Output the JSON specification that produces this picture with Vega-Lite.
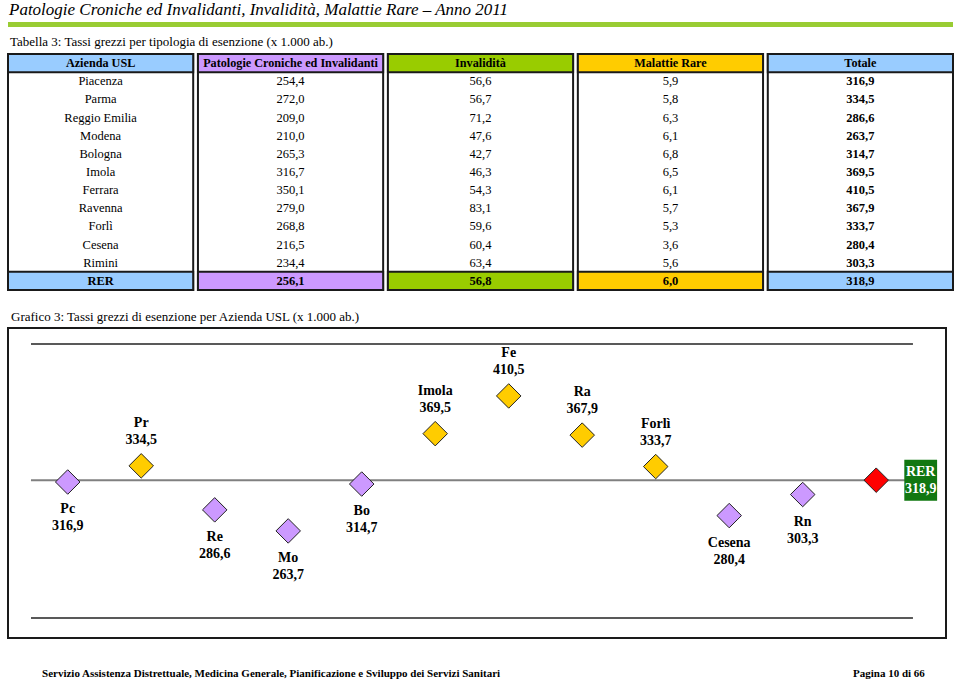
{
  "$schema": "https://vega.github.io/schema/vega-lite/v6.json",
  "padding": {"left": 7, "top": 1, "right": 0, "bottom": 0},
  "background": "white",
  "config": {
    "view": {"stroke": null},
    "font": "Liberation Serif",
    "locale": {"number": {"decimal": ",", "thousands": ".", "grouping": [3], "currency": ["", " €"]}},
    "title": {"font": "Liberation Serif", "fontWeight": "normal", "anchor": "start", "color": "#000000"},
    "text": {"font": "Liberation Serif", "color": "#000000"}
  },
  "datasets": {
    "colonne": [
      {"colonna": "Azienda USL"},
      {"colonna": "Patologie Croniche ed Invalidanti"},
      {"colonna": "Invalidità"},
      {"colonna": "Malattie Rare"},
      {"colonna": "Totale"}
    ],
    "aziende": [
      {"azienda": "Piacenza", "sigla": "Pc", "Patologie Croniche ed Invalidanti": 254.4, "Invalidità": 56.6, "Malattie Rare": 5.9, "Totale": 316.9, "posizione": "sotto"},
      {"azienda": "Parma", "sigla": "Pr", "Patologie Croniche ed Invalidanti": 272.0, "Invalidità": 56.7, "Malattie Rare": 5.8, "Totale": 334.5, "posizione": "sopra"},
      {"azienda": "Reggio Emilia", "sigla": "Re", "Patologie Croniche ed Invalidanti": 209.0, "Invalidità": 71.2, "Malattie Rare": 6.3, "Totale": 286.6, "posizione": "sotto"},
      {"azienda": "Modena", "sigla": "Mo", "Patologie Croniche ed Invalidanti": 210.0, "Invalidità": 47.6, "Malattie Rare": 6.1, "Totale": 263.7, "posizione": "sotto"},
      {"azienda": "Bologna", "sigla": "Bo", "Patologie Croniche ed Invalidanti": 265.3, "Invalidità": 42.7, "Malattie Rare": 6.8, "Totale": 314.7, "posizione": "sotto"},
      {"azienda": "Imola", "sigla": "Imola", "Patologie Croniche ed Invalidanti": 316.7, "Invalidità": 46.3, "Malattie Rare": 6.5, "Totale": 369.5, "posizione": "sopra"},
      {"azienda": "Ferrara", "sigla": "Fe", "Patologie Croniche ed Invalidanti": 350.1, "Invalidità": 54.3, "Malattie Rare": 6.1, "Totale": 410.5, "posizione": "sopra"},
      {"azienda": "Ravenna", "sigla": "Ra", "Patologie Croniche ed Invalidanti": 279.0, "Invalidità": 83.1, "Malattie Rare": 5.7, "Totale": 367.9, "posizione": "sopra"},
      {"azienda": "Forlì", "sigla": "Forlì", "Patologie Croniche ed Invalidanti": 268.8, "Invalidità": 59.6, "Malattie Rare": 5.3, "Totale": 333.7, "posizione": "sopra"},
      {"azienda": "Cesena", "sigla": "Cesena", "Patologie Croniche ed Invalidanti": 216.5, "Invalidità": 60.4, "Malattie Rare": 3.6, "Totale": 280.4, "posizione": "sotto"},
      {"azienda": "Rimini", "sigla": "Rn", "Patologie Croniche ed Invalidanti": 234.4, "Invalidità": 63.4, "Malattie Rare": 5.6, "Totale": 303.3, "posizione": "sotto"},
      {"azienda": "RER", "sigla": "RER", "Patologie Croniche ed Invalidanti": 256.1, "Invalidità": 56.8, "Malattie Rare": 6.0, "Totale": 318.9, "posizione": "regione"}
    ]
  },
  "spacing": 19,
  "vconcat": [
    {
      "spacing": 9,
      "vconcat": [
        {
          "width": 945,
          "height": 5,
          "title": {"text": "Patologie Croniche ed Invalidanti, Invalidità, Malattie Rare – Anno 2011", "fontSize": 17, "fontStyle": "italic", "offset": 3, "dx": 1},
          "data": {"values": [{}]},
          "mark": {"type": "rect", "color": "#99CC33"},
          "encoding": {}
        },
        {
          "width": 945,
          "height": 236,
          "title": {"text": "Tabella 3: Tassi grezzi per tipologia di esenzione (x 1.000 ab.)", "fontSize": 13, "offset": 4, "dx": 3},
          "layer": [
            {
              "data": {"name": "colonne"},
              "mark": {"type": "rect", "fill": "white", "stroke": "#1a1a1a", "strokeWidth": 2},
              "encoding": {
                "x": {"field": "colonna", "type": "nominal", "axis": null,
                  "scale": {"type": "band", "domain": ["Azienda USL", "Patologie Croniche ed Invalidanti", "Invalidità", "Malattie Rare", "Totale"], "paddingInner": 0.025, "paddingOuter": 0}}
              }
            },
            {
              "data": {"name": "colonne"},
              "mark": {"type": "rect", "stroke": "#1a1a1a", "strokeWidth": 2},
              "encoding": {
                "x": {"field": "colonna", "type": "nominal", "axis": null},
                "y": {"datum": "intestazione", "type": "nominal", "axis": null,
                  "scale": {"type": "band", "domain": ["intestazione", "Piacenza", "Parma", "Reggio Emilia", "Modena", "Bologna", "Imola", "Ferrara", "Ravenna", "Forlì", "Cesena", "Rimini", "RER"], "paddingInner": 0, "paddingOuter": 0}},
                "color": {"field": "colonna", "type": "nominal", "legend": null,
                  "scale": {"domain": ["Azienda USL", "Patologie Croniche ed Invalidanti", "Invalidità", "Malattie Rare", "Totale"], "range": ["#99CCFF", "#CC99FF", "#99CC00", "#FFCC00", "#99CCFF"]}}
              }
            },
            {
              "data": {"name": "colonne"},
              "mark": {"type": "rect", "stroke": "#1a1a1a", "strokeWidth": 2},
              "encoding": {
                "x": {"field": "colonna", "type": "nominal", "axis": null},
                "y": {"datum": "RER", "type": "nominal", "axis": null},
                "color": {"field": "colonna", "type": "nominal", "legend": null}
              }
            },
            {
              "data": {"name": "colonne"},
              "mark": {"type": "text", "fontSize": 12.2, "fontWeight": "bold"},
              "encoding": {
                "x": {"field": "colonna", "type": "nominal", "axis": null},
                "y": {"datum": "intestazione", "type": "nominal", "axis": null},
                "text": {"field": "colonna"}
              }
            },
            {
              "data": {"name": "aziende"},
              "transform": [{"filter": "datum.azienda !== 'RER'"}],
              "mark": {"type": "text", "fontSize": 12.5, "fontWeight": "normal"},
              "encoding": {
                "x": {"datum": "Azienda USL", "type": "nominal", "axis": null},
                "y": {"field": "azienda", "type": "nominal", "axis": null},
                "text": {"field": "azienda"}
              }
            },
            {
              "data": {"name": "aziende"},
              "transform": [{"filter": "datum.azienda === 'RER'"}],
              "mark": {"type": "text", "fontSize": 12.5, "fontWeight": "bold"},
              "encoding": {
                "x": {"datum": "Azienda USL", "type": "nominal", "axis": null},
                "y": {"field": "azienda", "type": "nominal", "axis": null},
                "text": {"field": "azienda"}
              }
            },
            {
              "data": {"name": "aziende"},
              "transform": [
                {"fold": ["Patologie Croniche ed Invalidanti", "Invalidità", "Malattie Rare", "Totale"], "as": ["colonna", "valore"]},
                {"filter": "datum.azienda !== 'RER' && datum.colonna !== 'Totale'"}
              ],
              "mark": {"type": "text", "fontSize": 12.5, "fontWeight": "normal"},
              "encoding": {
                "x": {"field": "colonna", "type": "nominal", "axis": null},
                "y": {"field": "azienda", "type": "nominal", "axis": null},
                "text": {"field": "valore", "type": "quantitative", "format": ".1f"}
              }
            },
            {
              "data": {"name": "aziende"},
              "transform": [
                {"fold": ["Patologie Croniche ed Invalidanti", "Invalidità", "Malattie Rare", "Totale"], "as": ["colonna", "valore"]},
                {"filter": "datum.azienda === 'RER' || datum.colonna === 'Totale'"}
              ],
              "mark": {"type": "text", "fontSize": 12.5, "fontWeight": "bold"},
              "encoding": {
                "x": {"field": "colonna", "type": "nominal", "axis": null},
                "y": {"field": "azienda", "type": "nominal", "axis": null},
                "text": {"field": "valore", "type": "quantitative", "format": ".1f"}
              }
            }
          ]
        }
      ]
    },
    {
      "spacing": 28,
      "vconcat": [
        {
          "width": 938,
          "height": 310,
          "title": {"text": "Grafico 3: Tassi grezzi di esenzione per Azienda USL (x 1.000 ab.)", "fontSize": 13, "offset": 4, "dx": 3},
          "view": {"stroke": "#1a1a1a", "strokeWidth": 2},
          "layer": [
            {
              "data": {"values": [{}]},
              "mark": {"type": "rule", "color": "#222222", "strokeWidth": 1.5},
              "encoding": {
                "x": {"datum": "Pc", "type": "nominal", "bandPosition": 0, "axis": null,
                  "scale": {"type": "band", "domain": ["Pc", "Pr", "Re", "Mo", "Bo", "Imola", "Fe", "Ra", "Forlì", "Cesena", "Rn", "RER"], "paddingInner": 0, "paddingOuter": 0.381, "align": 0.41}},
                "x2": {"datum": "RER", "bandPosition": 1},
                "y": {"datum": 467, "type": "quantitative", "axis": null,
                  "scale": {"domain": [147.25, 484.4], "nice": false, "zero": false}}
              }
            },
            {
              "data": {"values": [{}]},
              "mark": {"type": "rule", "color": "#222222", "strokeWidth": 1.5},
              "encoding": {
                "x": {"datum": "Pc", "type": "nominal", "bandPosition": 0, "axis": null},
                "x2": {"datum": "RER", "bandPosition": 1},
                "y": {"datum": 169, "type": "quantitative", "axis": null}
              }
            },
            {
              "data": {"values": [{}]},
              "mark": {"type": "rule", "color": "#808080", "strokeWidth": 2},
              "encoding": {
                "x": {"datum": "Pc", "type": "nominal", "bandPosition": 0, "axis": null},
                "x2": {"datum": "RER", "bandPosition": 1},
                "y": {"datum": 318.9, "type": "quantitative", "axis": null}
              }
            },
            {
              "data": {"name": "aziende"},
              "transform": [{"filter": "datum.posizione === 'regione'"}],
              "mark": {"type": "point", "filled": true, "opacity": 1, "shape": "M-0.8,-1L0.8,-1L0.8,1L-0.8,1Z", "size": 1681, "color": "#117711", "xOffset": 44.5},
              "encoding": {
                "x": {"field": "sigla", "type": "nominal", "axis": null},
                "y": {"field": "Totale", "type": "quantitative", "axis": null}
              }
            },
            {
              "data": {"name": "aziende"},
              "mark": {"type": "point", "filled": true, "opacity": 1, "shape": "diamond", "size": 600, "stroke": "#222222", "strokeWidth": 1},
              "encoding": {
                "x": {"field": "sigla", "type": "nominal", "axis": null},
                "y": {"field": "Totale", "type": "quantitative", "axis": null},
                "fill": {"field": "posizione", "type": "nominal", "legend": null,
                  "scale": {"domain": ["sopra", "sotto", "regione"], "range": ["#FFCC00", "#CC99FF", "#FF0000"]}}
              }
            },
            {
              "data": {"name": "aziende"},
              "transform": [{"filter": "datum.posizione === 'sopra'"}],
              "mark": {"type": "text", "fontSize": 14, "fontWeight": "bold", "dy": -43},
              "encoding": {
                "x": {"field": "sigla", "type": "nominal", "axis": null},
                "y": {"field": "Totale", "type": "quantitative", "axis": null},
                "text": {"field": "sigla"}
              }
            },
            {
              "data": {"name": "aziende"},
              "transform": [{"filter": "datum.posizione === 'sopra'"}],
              "mark": {"type": "text", "fontSize": 14, "fontWeight": "bold", "dy": -26},
              "encoding": {
                "x": {"field": "sigla", "type": "nominal", "axis": null},
                "y": {"field": "Totale", "type": "quantitative", "axis": null},
                "text": {"field": "Totale", "type": "quantitative", "format": ".1f"}
              }
            },
            {
              "data": {"name": "aziende"},
              "transform": [{"filter": "datum.posizione === 'sotto'"}],
              "mark": {"type": "text", "fontSize": 14, "fontWeight": "bold", "dy": 27},
              "encoding": {
                "x": {"field": "sigla", "type": "nominal", "axis": null},
                "y": {"field": "Totale", "type": "quantitative", "axis": null},
                "text": {"field": "sigla"}
              }
            },
            {
              "data": {"name": "aziende"},
              "transform": [{"filter": "datum.posizione === 'sotto'"}],
              "mark": {"type": "text", "fontSize": 14, "fontWeight": "bold", "dy": 44},
              "encoding": {
                "x": {"field": "sigla", "type": "nominal", "axis": null},
                "y": {"field": "Totale", "type": "quantitative", "axis": null},
                "text": {"field": "Totale", "type": "quantitative", "format": ".1f"}
              }
            },
            {
              "data": {"name": "aziende"},
              "transform": [{"filter": "datum.posizione === 'regione'"}],
              "mark": {"type": "text", "fontSize": 14, "fontWeight": "bold", "dy": -8, "dx": 44.5, "color": "white"},
              "encoding": {
                "x": {"field": "sigla", "type": "nominal", "axis": null},
                "y": {"field": "Totale", "type": "quantitative", "axis": null},
                "text": {"field": "sigla"}
              }
            },
            {
              "data": {"name": "aziende"},
              "transform": [{"filter": "datum.posizione === 'regione'"}],
              "mark": {"type": "text", "fontSize": 14, "fontWeight": "bold", "dy": 9, "dx": 44.5, "color": "white"},
              "encoding": {
                "x": {"field": "sigla", "type": "nominal", "axis": null},
                "y": {"field": "Totale", "type": "quantitative", "axis": null},
                "text": {"field": "Totale", "type": "quantitative", "format": ".1f"}
              }
            }
          ]
        },
        {
          "width": 945,
          "height": 14,
          "data": {"values": [
            {"testo": "Servizio Assistenza Distrettuale, Medicina Generale, Pianificazione e Sviluppo dei Servizi Sanitari", "lato": "sx"},
            {"testo": "Pagina 10 di 66", "lato": "dx"}
          ]},
          "mark": {"type": "text", "align": "left", "baseline": "middle", "fontSize": 11, "fontWeight": "bold"},
          "encoding": {
            "x": {"field": "lato", "type": "nominal", "axis": null,
              "scale": {"type": "point", "domain": ["sx", "dx"], "padding": 0.0826, "align": 0.254}},
            "text": {"field": "testo"}
          }
        }
      ]
    }
  ]
}
